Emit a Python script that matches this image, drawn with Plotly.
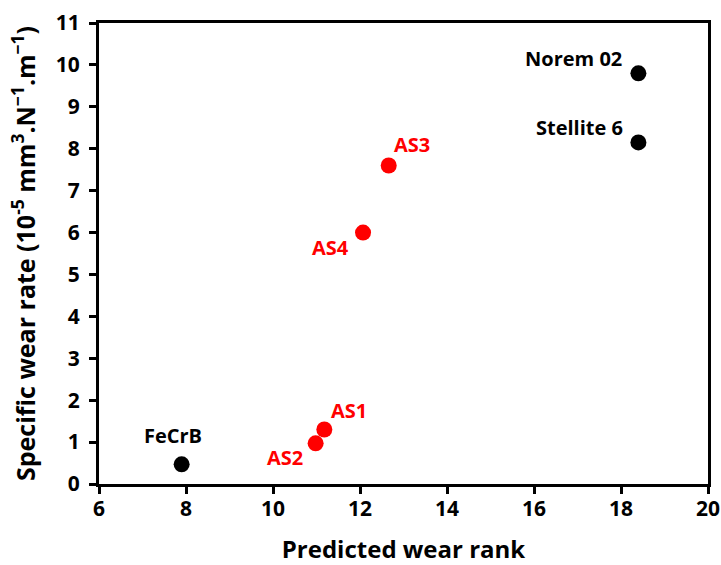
import plotly.graph_objects as go

# Data
black_names = ["FeCrB", "Stellite 6", "Norem 02"]
black_x = [7.9, 18.4, 18.4]
black_y = [0.47, 8.15, 9.8]

red_names = ["AS1", "AS2", "AS3", "AS4"]
red_x = [11.18, 10.98, 12.66, 12.07]
red_y = [1.3, 0.97, 7.6, 6.0]

x_title = "Predicted wear rank"
y_title = "Specific wear rate (10<sup>-5</sup> mm<sup>3</sup>.N<sup>\u22121</sup>.m<sup>\u22121</sup>)"

FONT = "'Open Sans', sans-serif"

fig = go.Figure()
fig.add_trace(go.Scatter(x=black_x, y=black_y, mode="markers",
                         marker=dict(color="black", size=16), showlegend=False))
fig.add_trace(go.Scatter(x=red_x, y=red_y, mode="markers",
                         marker=dict(color="#ff0000", size=16), showlegend=False))

# label placement (styling only)
label_pos = {
    "FeCrB": ("center", "bottom", -9, 13),
    "Stellite 6": ("right", "bottom", -13, -1),
    "Norem 02": ("right", "bottom", -14, -1),
    "AS1": ("left", "bottom", 5, 4),
    "AS2": ("right", "top", -11, 1),
    "AS3": ("left", "bottom", 3, 5),
    "AS4": ("right", "top", -12, 1),
}
for names, xs, ys, col in [(black_names, black_x, black_y, "black"),
                           (red_names, red_x, red_y, "#ff0000")]:
    for n, x, y in zip(names, xs, ys):
        xa, ya, dx, dy = label_pos[n]
        fig.add_annotation(x=x, y=y, text=n, showarrow=False,
                           xanchor=xa, yanchor=ya, xshift=dx, yshift=dy,
                           font=dict(family=FONT, size=20, color=col, weight="bold"))

axis_common = dict(showline=True, linecolor="black", linewidth=3, mirror=True,
                   ticks="outside", ticklen=7, tickwidth=3, tickcolor="black",
                   showgrid=False, zeroline=False, automargin=False,
                   tickfont=dict(family=FONT, size=21, color="black", weight="bold"))

fig.update_xaxes(range=[6, 20], dtick=2, tick0=6, ticklabelstandoff=-3,
                 title=dict(text=x_title, standoff=22,
                            font=dict(family=FONT, size=24, color="black", weight="bold")),
                 **axis_common)
fig.update_yaxes(range=[0, 11], dtick=1, tick0=0, ticklabelstandoff=5,
                 title=dict(text=y_title, standoff=14,
                            font=dict(family=FONT, size=25, color="black", weight="bold")),
                 **axis_common)
fig.update_layout(width=721, height=565, plot_bgcolor="white", paper_bgcolor="white",
                  margin=dict(l=99, r=13, t=23, b=81),
                  font=dict(family=FONT, color="black"))

fig.write_html("out.html", config={"displayModeBar": False},
               post_script="document.body.style.margin='0';document.body.style.overflow='hidden';")
